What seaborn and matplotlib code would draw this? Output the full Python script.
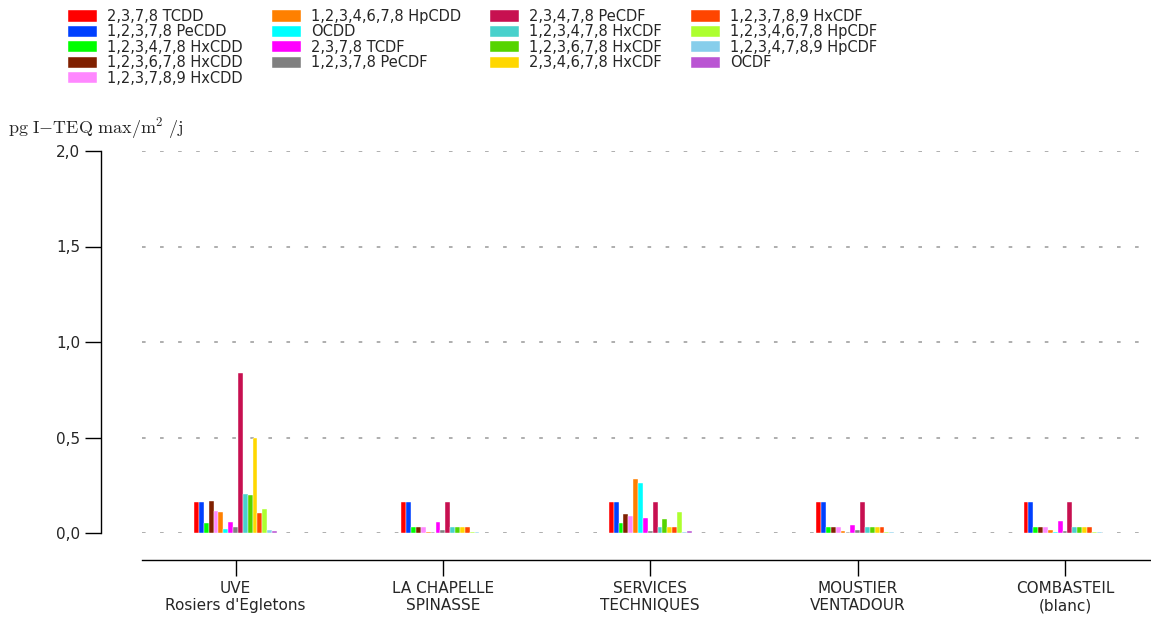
import matplotlib
matplotlib.use("Agg")
import matplotlib.pyplot as plt
import seaborn as sns
import pandas as pd

sites = ["UVE\nRosiers d'Egletons", "LA CHAPELLE\nSPINASSE", "SERVICES\nTECHNIQUES",
         "MOUSTIER\nVENTADOUR", "COMBASTEIL\n(blanc)"]

congeners = ["2,3,7,8 TCDD", "1,2,3,7,8 PeCDD", "1,2,3,4,7,8 HxCDD", "1,2,3,6,7,8 HxCDD",
             "1,2,3,7,8,9 HxCDD", "1,2,3,4,6,7,8 HpCDD", "OCDD", "2,3,7,8 TCDF",
             "1,2,3,7,8 PeCDF", "2,3,4,7,8 PeCDF", "1,2,3,4,7,8 HxCDF", "1,2,3,6,7,8 HxCDF",
             "2,3,4,6,7,8 HxCDF", "1,2,3,7,8,9 HxCDF", "1,2,3,4,6,7,8 HpCDF",
             "1,2,3,4,7,8,9 HpCDF", "OCDF"]

colors = ["#ff0000", "#0040ff", "#00ff00", "#802000", "#ff88ff", "#ff8000", "#00ffff",
          "#ff00ff", "#808080", "#c71050", "#48d1cc", "#55d400", "#ffd700", "#ff4500",
          "#adff2f", "#87ceeb", "#ba55d3"]

uve = [0.16, 0.16, 0.05, 0.17, 0.117, 0.11, 0.02, 0.06, 0.03, 0.84, 0.204, 0.20, 0.50,
       0.106, 0.125, 0.015, 0.012]
chapelle = [0.16, 0.16, 0.03, 0.03, 0.03, 0.007, 0.002, 0.06, 0.015, 0.16, 0.03, 0.03, 0.03,
            0.03, 0.005, 0.005, 0.001]
services = [0.16, 0.16, 0.05, 0.10, 0.09, 0.285, 0.26, 0.077, 0.012, 0.16, 0.03, 0.072, 0.03,
            0.03, 0.108, 0.005, 0.013]
moustier = [0.16, 0.16, 0.03, 0.03, 0.03, 0.01, 0.002, 0.04, 0.015, 0.16, 0.03, 0.03, 0.03,
            0.03, 0.005, 0.005, 0.001]
combasteil = [0.16, 0.16, 0.03, 0.03, 0.03, 0.015, 0.006, 0.063, 0.012, 0.16, 0.03, 0.03, 0.03,
              0.03, 0.005, 0.005, 0.002]

yticks = [0.0, 0.5, 1.0, 1.5, 2.0]
ytick_labels = ["0,0", "0,5", "1,0", "1,5", "2,0"]

rows = []
for site, vals in zip(sites, [uve, chapelle, services, moustier, combasteil]):
    for c, v in zip(congeners, vals):
        rows.append({"site": site, "congener": c, "value": v})
df = pd.DataFrame(rows)

sns.set_style("white")
plt.rcParams["font.family"] = ["DejaVu Sans"]
plt.rcParams["mathtext.fontset"] = "cm"

W, H = 1151, 617
fig = plt.figure(figsize=(W / 100, H / 100), dpi=100)
ax = fig.add_axes([142 / W, 1 - 533 / H, 1008 / W, 382 / H])

sns.barplot(data=df, x="site", y="value", hue="congener", hue_order=congeners,
            order=sites, palette=colors, saturation=1, width=0.4, errorbar=None,
            edgecolor="white", linewidth=0.3, ax=ax)

handles, labels = ax.get_legend_handles_labels()
if ax.get_legend() is not None:
    ax.get_legend().remove()

ax.set_ylim(0, 2.0)
ax.set_xlim(-0.451, 4.41)
ax.set_yticks(yticks)
ax.set_yticklabels(ytick_labels)
ax.set_xlabel("")
ax.set_ylabel("")

for y in yticks:
    ax.axhline(y, color="#a8a8a8", linewidth=1.3, linestyle=(0, (2, 8)), zorder=0)

for s in ["top", "right"]:
    ax.spines[s].set_visible(False)
ax.spines["left"].set_position(("outward", 29.5))
ax.spines["left"].set_bounds(0, 2.0)
ax.spines["bottom"].set_position(("outward", 19.4))
for s in ["left", "bottom"]:
    ax.spines[s].set_color("black")
    ax.spines[s].set_linewidth(1.0)

ax.tick_params(axis="both", which="major", direction="out", length=11.5, width=1.0,
               color="black", labelsize=11, pad=3.5, left=True, bottom=True)

fig.text(8 / W, 1 - 128 / H, r"$\mathrm{pg\ I{-}TEQ\ max/m^2\ /j}$", fontsize=13,
         ha="left", va="center")

fig.legend(handles, labels, loc="upper left", bbox_to_anchor=(68 / W, 1 - 9 / H),
           ncol=4, frameon=False, fontsize=10.5, borderpad=0, borderaxespad=0,
           labelspacing=0.03, handlelength=2.0, handleheight=0.8, handletextpad=0.68,
           columnspacing=2.0)

fig.savefig("out.png", dpi=100)
